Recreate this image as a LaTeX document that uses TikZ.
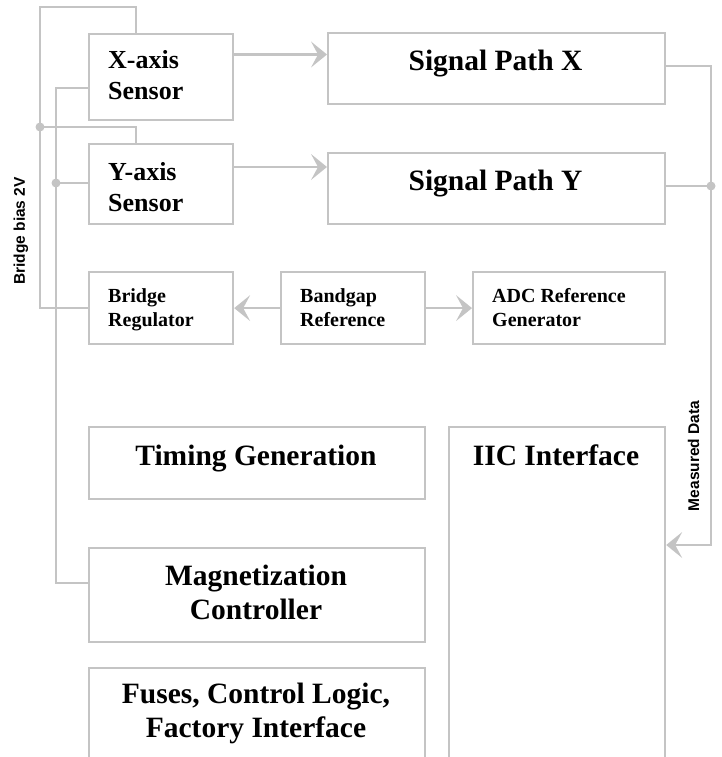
\documentclass[tikz,border=0pt]{standalone}
\usepackage{fontspec}
\setmainfont{Liberation Serif}
\newfontfamily\lsans{Liberation Sans}
\usetikzlibrary{arrows.meta}
\definecolor{wirec}{RGB}{196,196,196}
\tikzset{
  box/.style={draw=wirec, line width=2.2pt, inner sep=0pt, anchor=north west},
  wire/.style={draw=wirec, line width=2.2pt},
  arr/.style={wire, -{Stealth[length=16pt,width=26pt,inset=7pt,line width=0pt]}},
  dotc/.style={fill=wirec},
  lbig/.style={font=\bfseries\fontsize{29.5}{34}\selectfont, inner sep=0pt, align=center, anchor=base},
  lmid/.style={font=\bfseries\fontsize{26}{31}\selectfont, inner sep=0pt, align=left, anchor=base west},
  lsml/.style={font=\bfseries\fontsize{20}{24}\selectfont, inner sep=0pt, align=left, anchor=base west},
  rot/.style={font=\lsans\bfseries\fontsize{15.5}{18}\selectfont, inner sep=0pt, rotate=90},
}
\begin{document}
\begin{tikzpicture}[x=1pt,y=-1pt]
\useasboundingbox (0,0) rectangle (722,757);
\clip (0,0) rectangle (722,757);
% boxes
\node[box, minimum width=144pt, minimum height=86pt] (xs) at (88,33) {};
\node[box, minimum width=144pt, minimum height=80pt] (ys) at (88,143) {};
\node[box, minimum width=337pt, minimum height=71pt] (spx) at (327,32) {};
\node[box, minimum width=337pt, minimum height=71pt] (spy) at (327,152) {};
\node[box, minimum width=144pt, minimum height=72pt] (br) at (88,271) {};
\node[box, minimum width=144pt, minimum height=72pt] (bg) at (280,271) {};
\node[box, minimum width=192pt, minimum height=72pt] (adc) at (472,271) {};
\node[box, minimum width=336pt, minimum height=72pt] (tg) at (88,426) {};
\node[box, minimum width=216pt, minimum height=360pt] (iic) at (448,426) {};
\node[box, minimum width=336pt, minimum height=94pt] (mc) at (88,547) {};
\node[box, minimum width=336pt, minimum height=120pt] (fu) at (88,667) {};
% labels (base anchor = baseline of last line)
\node[lmid] (xsl) at (108,100) {X-axis\\Sensor};
\node[lmid] (ysl) at (108,211) {Y-axis\\Sensor};
\node[lbig] (spxl) at (495.5,71) {Signal Path X};
\node[lbig] (spyl) at (495.5,190) {Signal Path Y};
\node[lsml] (brl) at (108,326) {Bridge\\Regulator};
\node[lsml] (bgl) at (300,326) {Bandgap\\Reference};
\node[lsml] (adcl) at (492,326) {ADC Reference\\Generator};
\node[lbig] (tgl) at (256,465) {Timing Generation};
\node[lbig] (iicl) at (556,465) {IIC Interface};
\node[lbig] (mcl) at (256,619) {Magnetization\\Controller};
\node[lbig] (ful) at (256,737) {Fuses, Control Logic,\\Factory Interface};
\node[rot] (bb) at (21,231) {Bridge bias 2V};
\node[rot] (md) at (693.5,456) {Measured Data};
% coordinates
\coordinate (ot) at (40,7);
\coordinate (d1) at (40,127);
\coordinate (iL) at (56,300);
\coordinate (d2) at (56,183);
\coordinate (rB) at (711,545);
% left wires
\draw[wire] (br.west) -| (ot) -| ([xshift=48pt]xs.north west);
\draw[wire] (d1) -| ([xshift=48pt]ys.north west);
\draw[wire] ([yshift=-55pt]xs.north west) -| (iL) |- ([yshift=-36pt]mc.north west);
\draw[wire] (d2) -- (d2 -| ys.west);
\fill[dotc] (d1) circle (4.5);
\fill[dotc] (d2) circle (4.5);
% arrows
\draw[arr] ([yshift=-21.5pt]xs.north east) -- ([yshift=-22.5pt]spx.north west);
\draw[arr] ([yshift=-24pt]ys.north east) -- ([yshift=-15pt]spy.north west);
\draw[arr] (bg.west) -- (bg.west -| br.east);
\draw[arr] (bg.east) -- (bg.east -| adc.west);
% right wires
\coordinate (d3) at ([yshift=-34pt]spy.north east -| rB);
\draw[arr] ([yshift=-34pt]spx.north east) -| (rB) -- (rB -| iic.east);
\draw[wire] ([yshift=-34pt]spy.north east) -- (d3);
\fill[dotc] (d3) circle (4.5);
\end{tikzpicture}
\end{document}
